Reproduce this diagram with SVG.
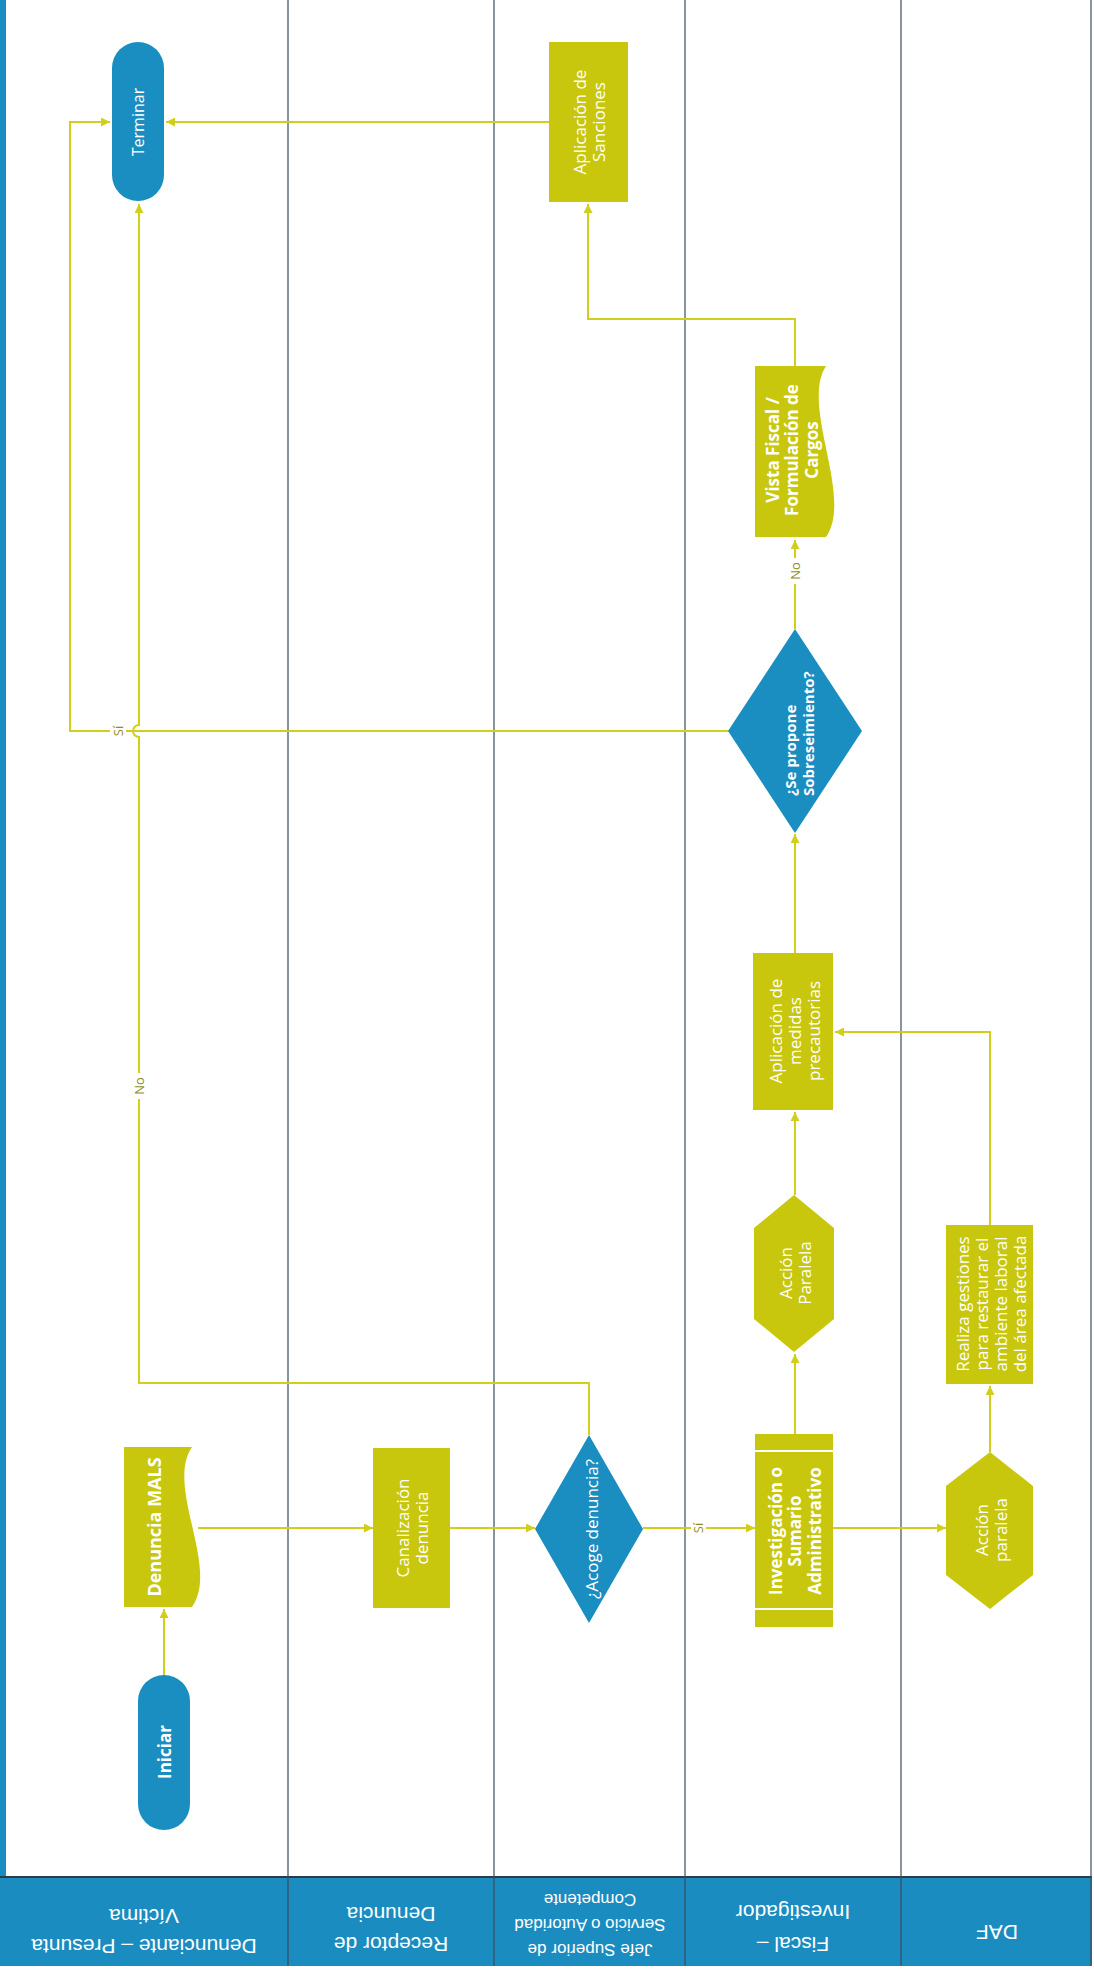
<svg xmlns="http://www.w3.org/2000/svg" width="1094" height="1976" viewBox="0 0 1094 1976">
<style>
.proc{fill:#c8c70d}
.term{fill:#1a8dc1}
.lane{stroke:#3b4c5c;stroke-width:1.2}
.conn{fill:none;stroke:#d2ce1c;stroke-width:2}
.t{font-family:"Open Sans","Liberation Sans",sans-serif;fill:#ffffff;font-size:17px;text-anchor:middle;dominant-baseline:central}
.b{font-weight:bold}
.lbl{font-family:"Open Sans","Liberation Sans",sans-serif;fill:#8f8c1e;font-size:13px;text-anchor:middle;dominant-baseline:central}
.hdr{font-family:"Liberation Sans",Arial,sans-serif;fill:#ffffff;font-size:21px;text-anchor:middle;dominant-baseline:central}
.hdrs{font-size:17px}
</style>
<defs>
<marker id="ah" viewBox="0 0 10 10" refX="10" refY="5" markerWidth="10" markerHeight="9" markerUnits="userSpaceOnUse" orient="auto"><path d="M0,0 L10,5 L0,10 z" fill="#d2ce1c"/></marker>
</defs>
<rect x="0" y="0" width="1094" height="1976" fill="#ffffff"/>
<g id="lanes">
<rect x="0" y="0" width="6" height="1966" fill="#1a8cc0"/>
<rect x="0" y="1877" width="1092" height="89" fill="#1a8cc0"/>
<line x1="0" y1="1877" x2="1092" y2="1877" stroke="#2a3b4a" stroke-width="2"/>
<line class="lane" x1="288" y1="0" x2="288" y2="1966"/>
<line class="lane" x1="494" y1="0" x2="494" y2="1966"/>
<line class="lane" x1="685" y1="0" x2="685" y2="1966"/>
<line class="lane" x1="901" y1="0" x2="901" y2="1966"/>
<line class="lane" x1="1091" y1="0" x2="1091" y2="1966"/>
<text class="hdr" transform="rotate(180 144 1946)" x="144" y="1946">Denunciante – Presunta</text>
<text class="hdr" transform="rotate(180 144 1916)" x="144" y="1916">Víctima</text>
<text class="hdr" transform="rotate(180 391 1944)" x="391" y="1944">Receptor de</text>
<text class="hdr" transform="rotate(180 391 1914)" x="391" y="1914">Denuncia</text>
<text class="hdr hdrs" transform="rotate(180 590 1949)" x="590" y="1949">Jefe Superior de</text>
<text class="hdr hdrs" transform="rotate(180 590 1924)" x="590" y="1924">Servicio o Autoridad</text>
<text class="hdr hdrs" transform="rotate(180 590 1899)" x="590" y="1899">Competente</text>
<text class="hdr" transform="rotate(180 793 1944)" x="793" y="1944">Fiscal –</text>
<text class="hdr" transform="rotate(180 793 1912)" x="793" y="1912">Investigador</text>
<text class="hdr" transform="rotate(180 997 1932)" x="997" y="1932">DAF</text>
</g>
<g id="connectors">
<path class="conn" d="M164 1675 V1609" marker-end="url(#ah)"/>
<path class="conn" d="M198 1528 H373" marker-end="url(#ah)"/>
<path class="conn" d="M450 1528 H535" marker-end="url(#ah)"/>
<path class="conn" d="M643 1528 H755" marker-end="url(#ah)"/>
<path class="conn" d="M589 1435 V1383 H139 V737 A6 6 0 0 1 139 725 V204" marker-end="url(#ah)"/>
<path class="conn" d="M795 1434 V1354" marker-end="url(#ah)"/>
<path class="conn" d="M833 1528 H946" marker-end="url(#ah)"/>
<path class="conn" d="M795 1195 V1112" marker-end="url(#ah)"/>
<path class="conn" d="M990 1452 V1386" marker-end="url(#ah)"/>
<path class="conn" d="M990 1225 V1032 H835" marker-end="url(#ah)"/>
<path class="conn" d="M795 953 V834" marker-end="url(#ah)"/>
<path class="conn" d="M795 629 V540" marker-end="url(#ah)"/>
<path class="conn" d="M729 731 H70 V122 H110" marker-end="url(#ah)"/>
<path class="conn" d="M795 366 V319 H588 V204" marker-end="url(#ah)"/>
<path class="conn" d="M549 122 H166" marker-end="url(#ah)"/>
<rect x="691" y="1517" width="15" height="22" fill="#ffffff"/>
<text class="lbl" transform="translate(698 1528) rotate(-90)">Sí</text>
<rect x="130" y="1073" width="18" height="26" fill="#ffffff"/>
<text class="lbl" transform="translate(139 1086) rotate(-90)">No</text>
<rect x="786" y="558" width="18" height="26" fill="#ffffff"/>
<text class="lbl" transform="translate(795 571) rotate(-90)">No</text>
<rect x="110" y="720" width="16" height="22" fill="#ffffff"/>
<text class="lbl" transform="translate(118 731) rotate(-90)">Sí</text>
</g>
<g id="n-iniciar">
<rect class="term" x="138" y="1675" width="52" height="155" rx="26"/>
<text class="t b" font-size="15" transform="translate(164 1752) rotate(-90)">Iniciar</text>
</g>
<g id="n-denuncia">
<path class="proc" d="M124 1447 H192 C165 1487 220 1567 192 1607 H124 Z"/>
<text class="t b" style="font-size:18px" transform="translate(154 1527) rotate(-90)">Denuncia MALS</text>
</g>
<g id="n-canalizacion">
<rect class="proc" x="373" y="1448" width="77" height="160"/>
<text class="t" transform="translate(411 1528) rotate(-90)"><tspan x="0" y="-9.5">Canalización</tspan><tspan x="0" y="9.5">denuncia</tspan></text>
</g>
<g id="n-acoge">
<polygon class="term" points="589,1435 643,1529 589,1623 535,1529"/>
<text class="t" transform="translate(591 1529) rotate(-90)">¿Acoge denuncia?</text>
</g>
<g id="n-investigacion">
<rect class="proc" x="755" y="1434" width="78" height="193"/>
<line x1="755" y1="1451" x2="833" y2="1451" stroke="#ffffff" stroke-width="2"/>
<line x1="755" y1="1609" x2="833" y2="1609" stroke="#ffffff" stroke-width="2"/>
<text class="t b" transform="translate(794 1531) rotate(-90)"><tspan x="0" y="-19.5">Investigación o</tspan><tspan x="0" y="0">Sumario</tspan><tspan x="0" y="19.5">Administrativo</tspan></text>
</g>
<g id="n-accion-fiscal">
<polygon class="proc" points="794,1195 834,1228 834,1319 794,1352 754,1319 754,1228"/>
<text class="t" transform="translate(794 1273) rotate(-90)"><tspan x="0" y="-9.5">Acción</tspan><tspan x="0" y="9.5">Paralela</tspan></text>
</g>
<g id="n-medidas">
<rect class="proc" x="753" y="953" width="80" height="157"/>
<text class="t" transform="translate(794 1031) rotate(-90)"><tspan x="0" y="-19">Aplicación de</tspan><tspan x="0" y="0">medidas</tspan><tspan x="0" y="19">precautorias</tspan></text>
</g>
<g id="n-sobreseimiento">
<polygon class="term" points="795,629 862,731 795,833 728,731"/>
<text class="t b" style="font-size:15px;text-anchor:start" transform="translate(799 796) rotate(-90)"><tspan x="0" y="-9">¿Se propone</tspan><tspan x="0" y="9">Sobreseimiento?</tspan></text>
</g>
<g id="n-vista">
<path class="proc" d="M755 366 H826 C800 406 854 497 826 537 H755 Z"/>
<text class="t b" transform="translate(791 450) rotate(-90)"><tspan x="0" y="-19.5">Vista Fiscal /</tspan><tspan x="0" y="0">Formulación de</tspan><tspan x="0" y="19.5">Cargos</tspan></text>
</g>
<g id="n-sanciones">
<rect class="proc" x="549" y="42" width="79" height="160"/>
<text class="t" transform="translate(588 122) rotate(-90)"><tspan x="0" y="-9.5">Aplicación de</tspan><tspan x="0" y="9.5">Sanciones</tspan></text>
</g>
<g id="n-terminar">
<rect class="term" x="112" y="42" width="52" height="159" rx="26"/>
<text class="t" style="font-size:16px" transform="translate(138 122) rotate(-90)">Terminar</text>
</g>
<g id="n-accion-daf">
<polygon class="proc" points="990,1452 1033,1486 1033,1575 990,1609 946,1575 946,1486"/>
<text class="t" transform="translate(990 1530) rotate(-90)"><tspan x="0" y="-9.5">Acción</tspan><tspan x="0" y="9.5">paralela</tspan></text>
</g>
<g id="n-realiza">
<rect class="proc" x="946" y="1225" width="87" height="159"/>
<text class="t" transform="translate(990 1304) rotate(-90)"><tspan x="0" y="-28.5">Realiza gestiones</tspan><tspan x="0" y="-9.5">para restaurar el</tspan><tspan x="0" y="9.5">ambiente laboral</tspan><tspan x="0" y="28.5">del área afectada</tspan></text>
</g>
</svg>
